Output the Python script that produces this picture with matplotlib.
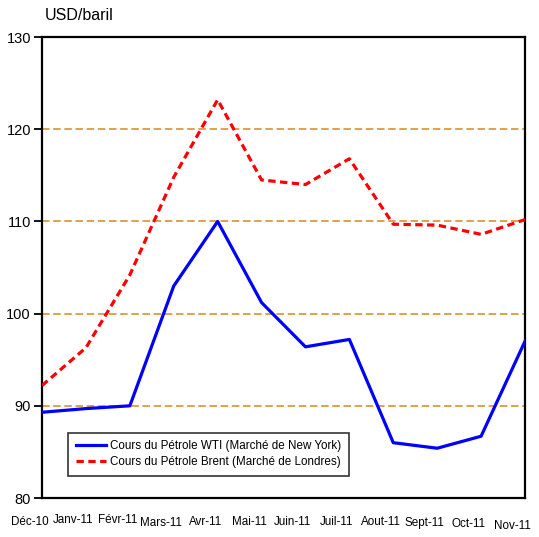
import matplotlib
matplotlib.use("Agg")
import matplotlib.pyplot as plt
import numpy as np

plt.rcParams["font.family"] = ["Liberation Sans", "DejaVu Sans"]

# -------------------------------------------------------------
# données
# -------------------------------------------------------------
mois = ["Déc-10", "Janv-11", "Févr-11", "Mars-11", "Avr-11", "Mai-11",
        "Juin-11", "Juil-11", "Aout-11", "Sept-11", "Oct-11", "Nov-11"]
wti = [89.3, 89.7, 90.0, 103.0, 110.0, 101.2, 96.4, 97.2, 86.0, 85.4, 86.7, 97.0]
brent = [92.2, 96.3, 104.2, 114.8, 123.2, 114.5, 114.0, 116.8, 109.7, 109.6, 108.6, 110.2]

label_wti = "Cours du Pétrole WTI (Marché de New York)"
label_brent = "Cours du Pétrole Brent (Marché de Londres)"

# petits décalages verticaux des étiquettes (en points), comme sur l'original
dy_labels = [-1, 0, 0, -2, -1.5, -1.5, -1, -1.5, -1.5, -2, -3, -4]

fig = plt.figure(figsize=(5.39, 5.37), dpi=100)
ax = fig.add_axes([0.078, 0.0726, 0.896, 0.8584])

x = np.arange(len(mois))
ax.plot(x, wti, color="#0000FF", lw=2.3, label=label_wti, zorder=3)
ax.plot(x, brent, color="#FF0000", lw=2.3, dashes=(2.3, 1.4),
        label=label_brent, zorder=3)

for yv in [90, 100, 110, 120]:
    ax.axhline(yv, color="#D8932B", lw=1.2, dashes=(4.5, 2.2), zorder=1)

ax.set_xlim(0, len(mois) - 1)
ax.set_ylim(80, 130)
ax.set_yticks(np.arange(80, 131, 10))
ax.tick_params(axis="y", direction="out", length=6, width=1.3,
               labelsize=10.5, pad=2)
ax.set_xticks([])

for sp in ax.spines.values():
    sp.set_linewidth(1.6)

trans = matplotlib.transforms.blended_transform_factory(ax.transData, ax.transAxes)
for i, (lab, dy) in enumerate(zip(mois, dy_labels)):
    off = matplotlib.transforms.offset_copy(trans, fig=fig, x=-9, y=-16 + dy,
                                            units="points")
    ax.text(i, 0, lab, transform=off, ha="center", va="center", fontsize=8.4)

ax.text(0.006, 1.03, "USD/baril", transform=ax.transAxes, ha="left",
        va="bottom", fontsize=11.5)

leg = ax.legend(loc="lower left", bbox_to_anchor=(0.054, 0.048), fontsize=8.4,
                frameon=True, fancybox=False, handlelength=2.6,
                borderpad=0.65, labelspacing=0.35, handletextpad=0.35,
                borderaxespad=0)
leg.get_frame().set_edgecolor("black")
leg.get_frame().set_linewidth(1.2)

fig.savefig("out.png", dpi=100)
